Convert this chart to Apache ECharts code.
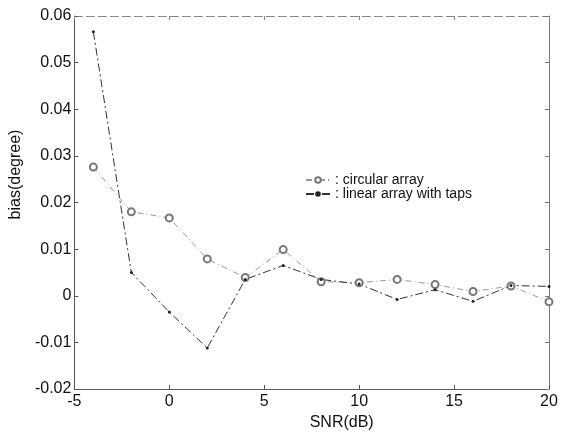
<!DOCTYPE html>
<html>
<head>
<meta charset="utf-8">
<script src="https://cdn.jsdelivr.net/npm/echarts@6/dist/echarts.min.js"></script>
<style>
  html, body { margin: 0; padding: 0; background: #fff; }
  #main { width: 561px; height: 436px; }
</style>
</head>
<body>
<div id="main"></div>
<script>
// SNR values (dB)
var snr = [-4, -2, 0, 2, 4, 6, 8, 10, 12, 14, 16, 18, 20];
// bias (degree)
var circularBias = [0.0276, 0.018, 0.0167, 0.0079, 0.0039, 0.0099, 0.003, 0.0028, 0.0035, 0.0024, 0.0009, 0.0021, -0.0013];
var linearBias = [0.0566, 0.005, -0.0035, -0.0112, 0.0035, 0.0065, 0.0035, 0.0025, -0.0008, 0.0013, -0.0012, 0.0022, 0.002];

function pairs(xs, ys) {
    var out = [];
    for (var i = 0; i < xs.length; i++) {
        out.push([xs[i], ys[i]]);
    }
    return out;
}

var myChart = echarts.init(document.getElementById('main'), null, { renderer: 'canvas' });

var axisFont = { fontFamily: 'Liberation Sans', fontSize: 16, color: '#111' };

var option = {
    backgroundColor: '#fff',
    animation: false,
    grid: { left: 73, right: 12, top: 16, bottom: 47 },
    legend: {
        orient: 'vertical',
        left: 300,
        top: 168,
        itemGap: 0,
        itemWidth: 24,
        itemHeight: 7,
        textStyle: { fontFamily: 'Liberation Sans', fontSize: 14, color: '#111' },
        formatter: ': {name}',
        data: ['circular array', 'linear array with taps']
    },
    xAxis: [{
        type: 'value',
        min: -5,
        max: 20,
        interval: 5,
        name: 'SNR(dB)',
        nameLocation: 'middle',
        nameGap: 24,
        nameTextStyle: Object.assign({ padding: [0, 0, 0, 60] }, axisFont),
        axisLine: { onZero: false, lineStyle: { color: '#555', width: 1 } },
        axisTick: { inside: true, length: 4, lineStyle: { color: '#555' } },
        axisLabel: Object.assign({ margin: 5 }, axisFont),
        splitLine: { show: false }
    }, {
        type: 'value',
        position: 'top',
        min: -5,
        max: 20,
        interval: 5,
        axisLine: { show: true, onZero: false, lineStyle: { color: '#888', width: 1, type: [8, 4] } },
        axisTick: { show: true, inside: true, length: 4, lineStyle: { color: '#888' } },
        axisLabel: { show: false },
        splitLine: { show: false }
    }],
    yAxis: [{
        type: 'value',
        min: -0.02,
        max: 0.06,
        interval: 0.01,
        name: 'bias(degree)',
        nameLocation: 'middle',
        nameGap: 49,
        nameTextStyle: Object.assign({ padding: [0, 0, 0, 56] }, axisFont),
        axisLine: { onZero: false, lineStyle: { color: '#555', width: 1 } },
        axisTick: { inside: true, length: 4, lineStyle: { color: '#555' } },
        axisLabel: Object.assign({
            margin: 3,
            formatter: function (v) {
                var r = Math.round(v * 100) / 100;
                return r === 0 ? '0' : r.toFixed(2);
            }
        }, axisFont),
        splitLine: { show: false }
    }, {
        type: 'value',
        position: 'right',
        min: -0.02,
        max: 0.06,
        interval: 0.01,
        axisLine: { show: true, onZero: false, lineStyle: { color: '#777', width: 1 } },
        axisTick: { show: true, inside: true, length: 4, lineStyle: { color: '#777' } },
        axisLabel: { show: false },
        splitLine: { show: false }
    }],
    series: [
        {
            name: 'circular array',
            type: 'line',
            data: pairs(snr, circularBias),
            symbol: 'emptyCircle',
            symbolSize: 7,
            itemStyle: { color: '#777', borderWidth: 1 },
            lineStyle: { color: '#999', width: 1, type: [6, 3, 1, 3] }
        },
        {
            name: 'linear array with taps',
            type: 'line',
            data: pairs(snr, linearBias),
            symbol: 'circle',
            symbolSize: 3,
            itemStyle: { color: '#222' },
            lineStyle: { color: '#333', width: 1, type: [8, 3, 2, 3] }
        }
    ]
};
option && myChart.setOption(option);
</script>
</body>
</html>
